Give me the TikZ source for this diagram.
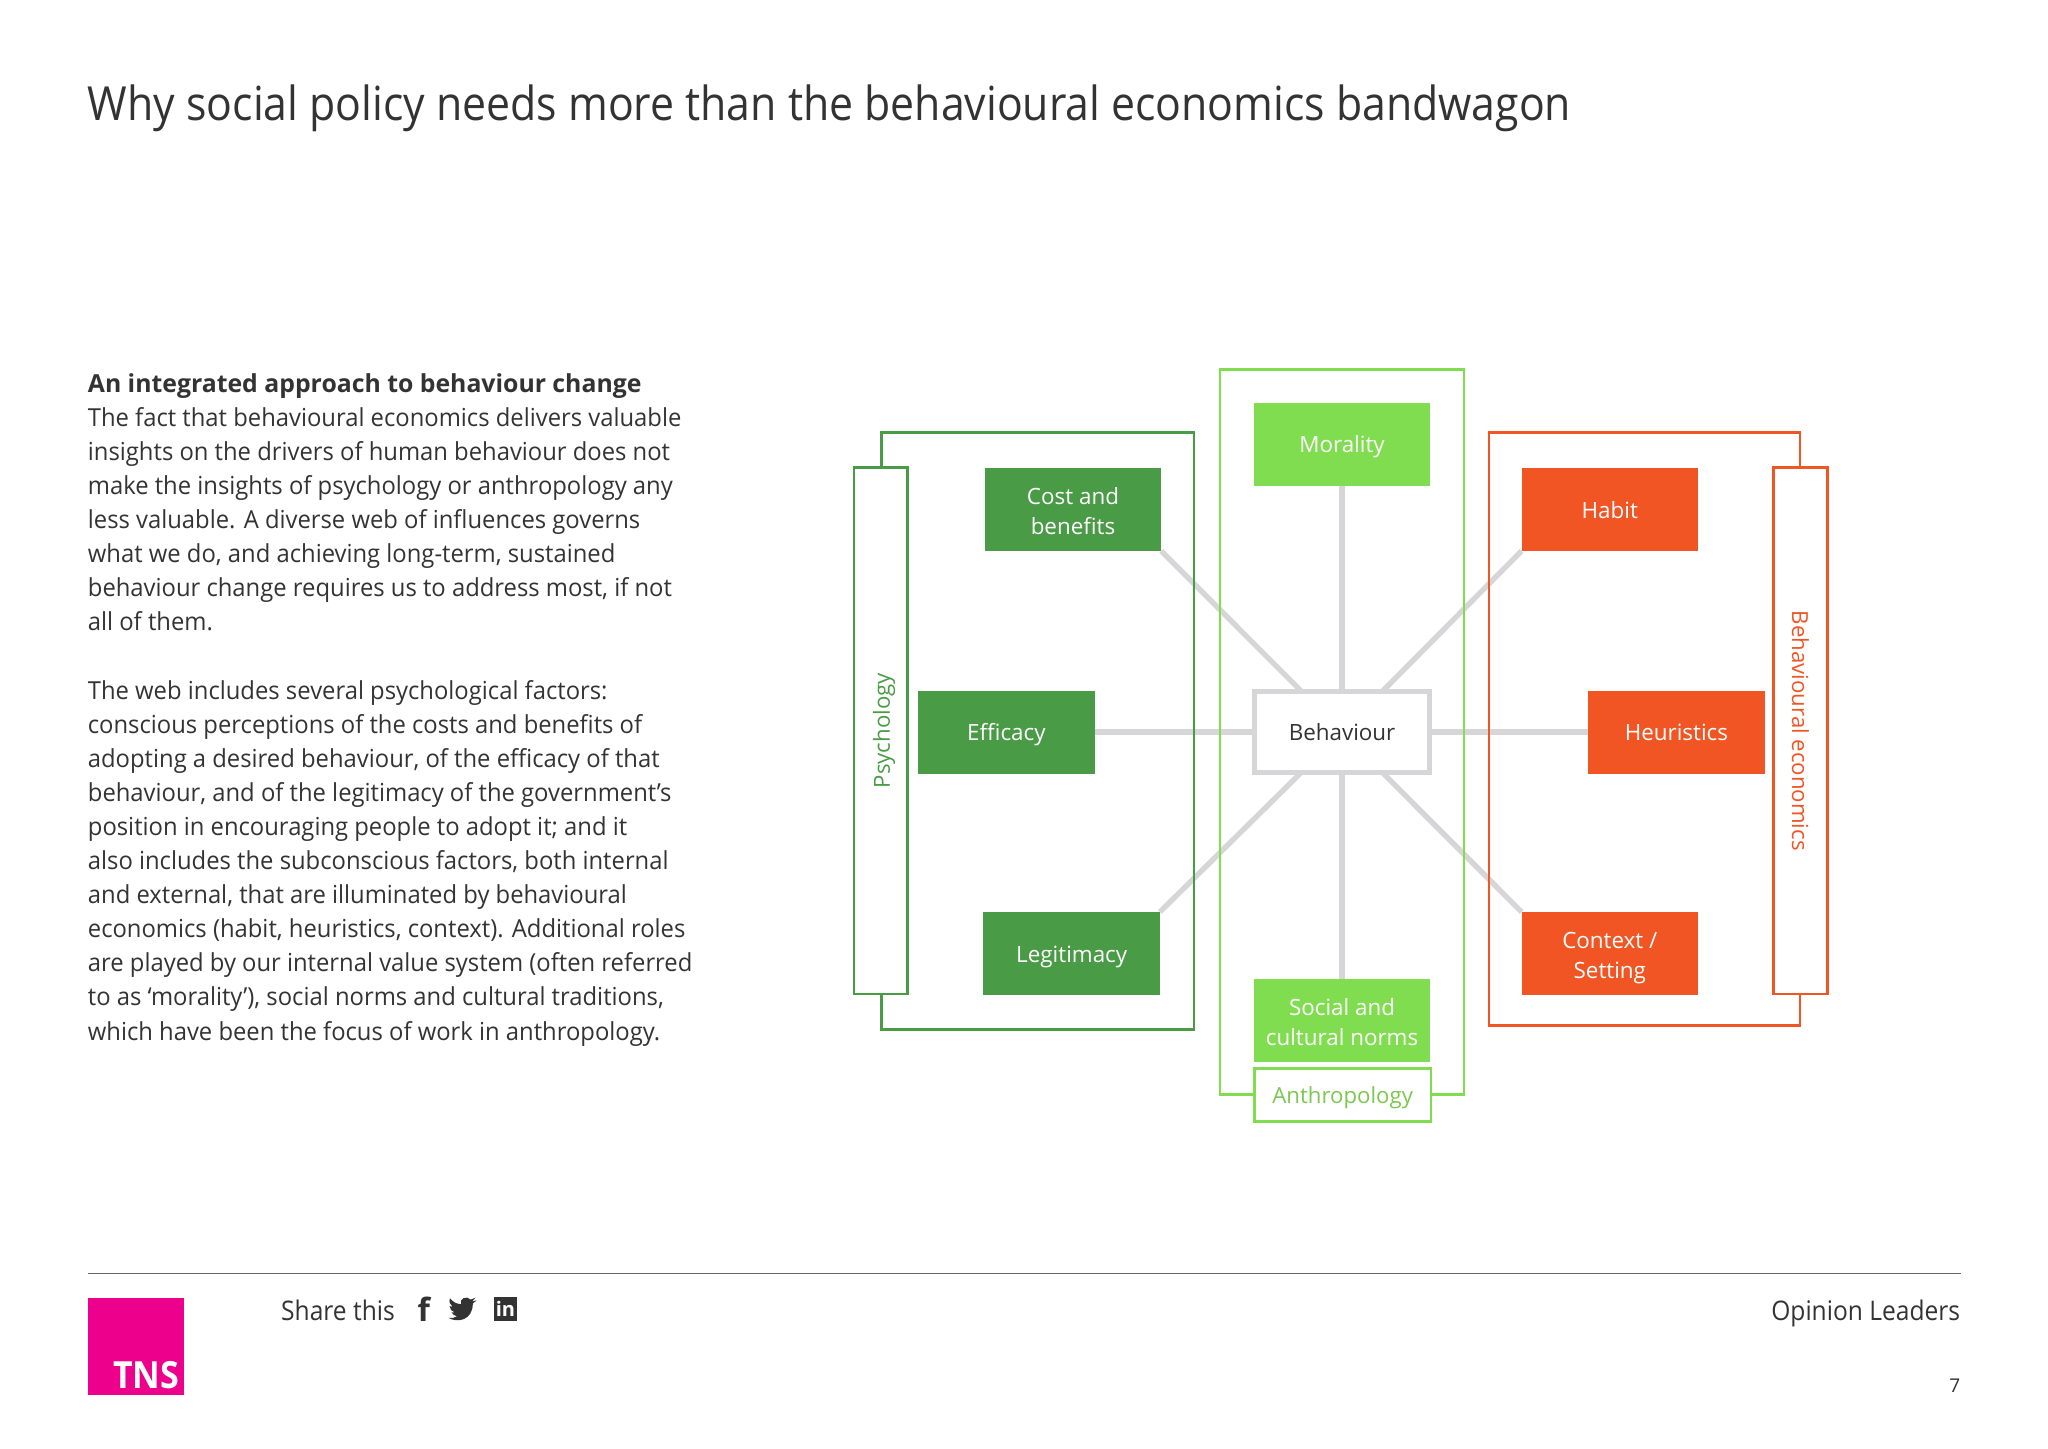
\documentclass[tikz,border=0pt]{standalone}
\usepackage{fontspec}
\setmainfont{Open Sans}
\newfontfamily\narrowfont[FakeStretch=0.91]{Open Sans}
\newfontfamily\bodyfont[FakeStretch=0.96]{Open Sans}
\usepackage{tikz}
\definecolor{darktext}{HTML}{333333}
\definecolor{psychgreen}{HTML}{4A9B45}
\definecolor{anthrogreen}{HTML}{80DD50}
\definecolor{anthrotext}{HTML}{7CC850}
\definecolor{beorange}{HTML}{F15524}
\definecolor{linkgray}{HTML}{D6D6D9}
\definecolor{tnspink}{HTML}{EC008C}
\newcommand{\twolines}[2]{\rule{0pt}{12.5pt}#1\\#2\rule[-2.5pt]{0pt}{0pt}}

\begin{document}
\begin{tikzpicture}[x=0.65306pt,y=-0.65306pt,
    factor/.style={inner sep=0pt,outer sep=0pt,minimum width=88.2pt,minimum height=41.5pt,align=center,text=white,font=\fontsize{11.2}{15}\selectfont},
    oneline/.style={text height=9.6pt,text depth=0.8pt},
    psych/.style={factor,fill=psychgreen},
    anthro/.style={factor,fill=anthrogreen},
    econ/.style={factor,fill=beorange},
    link/.style={draw=linkgray,line width=2.7pt},
    discipline/.style={inner sep=0pt,outer sep=0pt,fill=white,line width=1.3pt,font=\fontsize{11.1}{15}\selectfont}]
    \useasboundingbox (0,0) rectangle (1568,1108.7);
    \node[anchor=base west,inner sep=0pt,text=darktext,font=\narrowfont\fontsize{23.5}{28}\selectfont] (title) at (67,92) {Why social policy needs more than the behavioural economics bandwagon};
    \node[anchor=north west,inner sep=0pt,align=left,text=darktext,font=\bodyfont\fontsize{12.4}{17.05}\selectfont] (body) at (67,285.5) {{\rmfamily\bfseries An integrated approach to behaviour change}\\
    The fact that behavioural economics delivers valuable\\
    insights on the drivers of human behaviour does not\\
    make the insights of psychology or anthropology any\\
    less valuable. A diverse web of influences governs\\
    what we do, and achieving long-term, sustained\\
    behaviour change requires us to address most, if not\\
    all of them.\\[17.05pt]
    The web includes several psychological factors:\\
    conscious perceptions of the costs and benefits of\\
    adopting a desired behaviour, of the efficacy of that\\
    behaviour, and of the legitimacy of the government’s\\
    position in encouraging people to adopt it; and it\\
    also includes the subconscious factors, both internal\\
    and external, that are illuminated by behavioural\\
    economics (habit, heuristics, context). Additional roles\\
    are played by our internal value system (often referred\\
    to as ‘morality’), social norms and cultural traditions,\\
    which have been the focus of work in anthropology.};
    % factors round the centre
    \node[draw=linkgray,line width=2.6pt,inner sep=0pt,outer sep=0pt,minimum width=87.5pt,minimum height=40.5pt,fill=white,text=darktext,font=\fontsize{11.2}{15}\selectfont,oneline] (behaviour) at (1027.5,560.5) {Behaviour};
    \node[psych] (cost) at (821.5,390) {\twolines{Cost and}{benefits}};
    \node[psych,oneline] (efficacy) at (770.5,560.5) {Efficacy};
    \node[psych,oneline] (legitimacy) at (820.5,730) {Legitimacy};
    \node[anthro,oneline] (morality) at (1027.5,340) {Morality};
    \node[anthro] (social) at (1027.5,781) {\twolines{Social and}{cultural norms}};
    \node[econ,oneline] (habit) at (1232.5,390) {Habit};
    \node[econ,oneline] (heuristics) at (1283.5,560.5) {Heuristics};
    \node[econ] (context) at (1232.5,730) {\twolines{Context /}{Setting}};
    \draw[link] (cost.south east) -- (behaviour);
    \draw[link] (efficacy) -- (behaviour);
    \draw[link] (legitimacy.north east) -- (behaviour);
    \draw[link] (morality) -- (behaviour);
    \draw[link] (social) -- (behaviour);
    \draw[link] (habit.south west) -- (behaviour);
    \draw[link] (heuristics) -- (behaviour);
    \draw[link] (context.north west) -- (behaviour);
    % frames and their labels
    \draw[psychgreen,line width=1.3pt] (675,331) rectangle (914,788);
    \draw[anthrogreen,line width=1.3pt] (934,283) rectangle (1121,838);
    \draw[beorange,line width=1.3pt] (1140,331) rectangle (1378,785);
    \node[discipline,draw=psychgreen,text=psychgreen,rotate=90,minimum width=263.2pt,minimum height=26.8pt,oneline] (psychology) at (674.5,559.5) {Psychology};
    \node[discipline,draw=beorange,text=beorange,rotate=-90,minimum width=263.2pt,minimum height=26.8pt] (economics) at (1378.5,559.5) {Behavioural economics};
    \node[discipline,draw=anthrogreen,text=anthrotext,minimum width=88.2pt,minimum height=26.6pt,oneline] (anthropology) at (1028,838.5) {Anthropology};
    % footer
    \draw[black!60,line width=0.6pt] (67,975) -- (1501,975);
    \node[inner sep=0pt,outer sep=0pt,fill=tnspink,minimum size=48.3pt] (logo) at (104,1031) {};
    \node[anchor=base east,inner sep=0pt,text=white,font=\narrowfont\fontsize{18.7}{20}\bfseries\selectfont] (tns) at (137.5,1063) {TNS};
    \node[anchor=base west,inner sep=0pt,text=darktext,font=\narrowfont\fontsize{13.5}{16}\selectfont] (share) at (215,1011) {Share this};
    \node[anchor=base,inner sep=0pt,text=darktext,font=\fontsize{16}{18}\bfseries\selectfont] (facebook) at (324.5,1012) {f};
    \fill[darktext] (343.5,1009) .. controls (350,1013) and (362,1011) .. (362,998) -- (365,995.5) -- (361.5,996.5) -- (364,993.5) -- (360.5,995) .. controls (357,991.5) and (351.5,994.5) .. (353,998.5) .. controls (349.5,998.5) and (346.5,996.5) .. (344.5,994) .. controls (343.5,996.5) and (344.5,999) .. (346.5,1000.5) -- (344.2,1000) .. controls (344.3,1002.5) and (346,1004) .. (348,1004.7) -- (345.8,1004.8) .. controls (346.5,1006.5) and (348,1007.5) .. (350,1007.7) .. controls (348,1009) and (346,1009.5) .. (343.5,1009) -- cycle;
    \node[inner sep=0pt,outer sep=0pt,fill=darktext,text=white,minimum size=11.8pt,font=\fontsize{10}{10}\bfseries\selectfont] (linkedin) at (387,1002) {in};
    \node[anchor=base east,inner sep=0pt,text=darktext,font=\narrowfont\fontsize{13.5}{16}\selectfont] (leaders) at (1501,1011) {Opinion Leaders};
    \node[anchor=base east,inner sep=0pt,text=darktext,font=\fontsize{9.5}{11}\selectfont] (page) at (1501,1066) {7};
\end{tikzpicture}
\end{document}
